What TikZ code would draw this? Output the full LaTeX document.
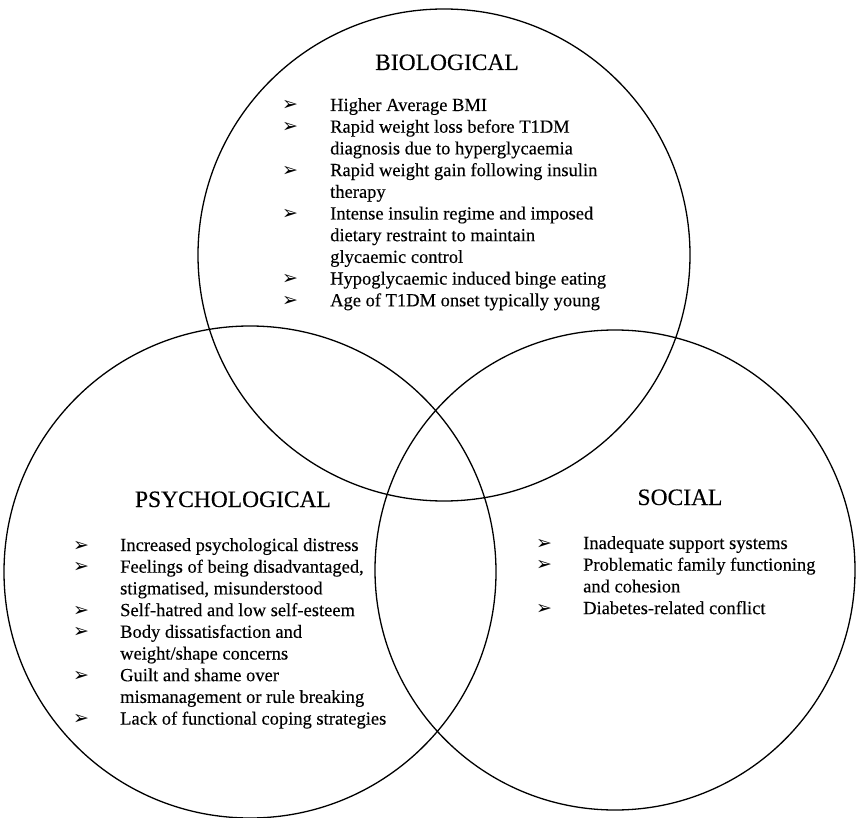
\documentclass[tikz,border=0pt]{standalone}
\usepackage{fontspec}
\setmainfont{Liberation Serif}[FakeBold=0.25]
\newfontfamily\dejavu{DejaVu Sans}
\newcommand{\bul}{{\dejavu\fontsize{19}{19}\selectfont ➢}}
\newcommand{\bodyfont}{\fontsize{18.5}{21.7}\selectfont}
\begin{document}
\begin{tikzpicture}[x=1pt,y=-1pt,
  circ/.style={draw=black, line width=1.3pt},
  title/.style={anchor=base, inner sep=0pt, font=\fontsize{23.5}{27}\selectfont},
  blist/.style={anchor=base west, inner sep=0pt, font=\bodyfont}]
\useasboundingbox (0,0) rectangle (857,818);
\draw[circ] (444,255) circle[radius=246pt];
\draw[circ] (250,572) circle[radius=246pt];
\draw[circ] (615,570) circle[radius=240pt];

\node[title] (tbio) at (447,70) {BIOLOGICAL};
\node[title] (tpsy) at (233,507) {PSYCHOLOGICAL};
\node[title] (tsoc) at (680,505) {SOCIAL};

\node[blist] (lbio) at (282,111) {\begin{tabular}[t]{@{}p{48pt}@{}l@{}}
\bul & Higher Average BMI\\
\bul & Rapid weight loss before T1DM\\
 & diagnosis due to hyperglycaemia\\
\bul & Rapid weight gain following insulin\\
 & therapy\\
\bul & Intense insulin regime and imposed\\
 & dietary restraint to maintain\\
 & glycaemic control\\
\bul & Hypoglycaemic induced binge eating\\
\bul & Age of T1DM onset typically young
\end{tabular}};

\node[blist] (lpsy) at (73,551) {\begin{tabular}[t]{@{}p{47pt}@{}l@{}}
\bul & Increased psychological distress\\
\bul & Feelings of being disadvantaged,\\
 & stigmatised, misunderstood\\
\bul & Self-hatred and low self-esteem\\
\bul & Body dissatisfaction and\\
 & weight/shape concerns\\
\bul & Guilt and shame over\\
 & mismanagement or rule breaking\\
\bul & Lack of functional coping strategies
\end{tabular}};

\node[blist] (lsoc) at (536,549) {\begin{tabular}[t]{@{}p{47pt}@{}l@{}}
\bul & Inadequate support systems\\
\bul & Problematic family functioning\\
 & and cohesion\\
\bul & Diabetes-related conflict
\end{tabular}};
\end{tikzpicture}
\end{document}
